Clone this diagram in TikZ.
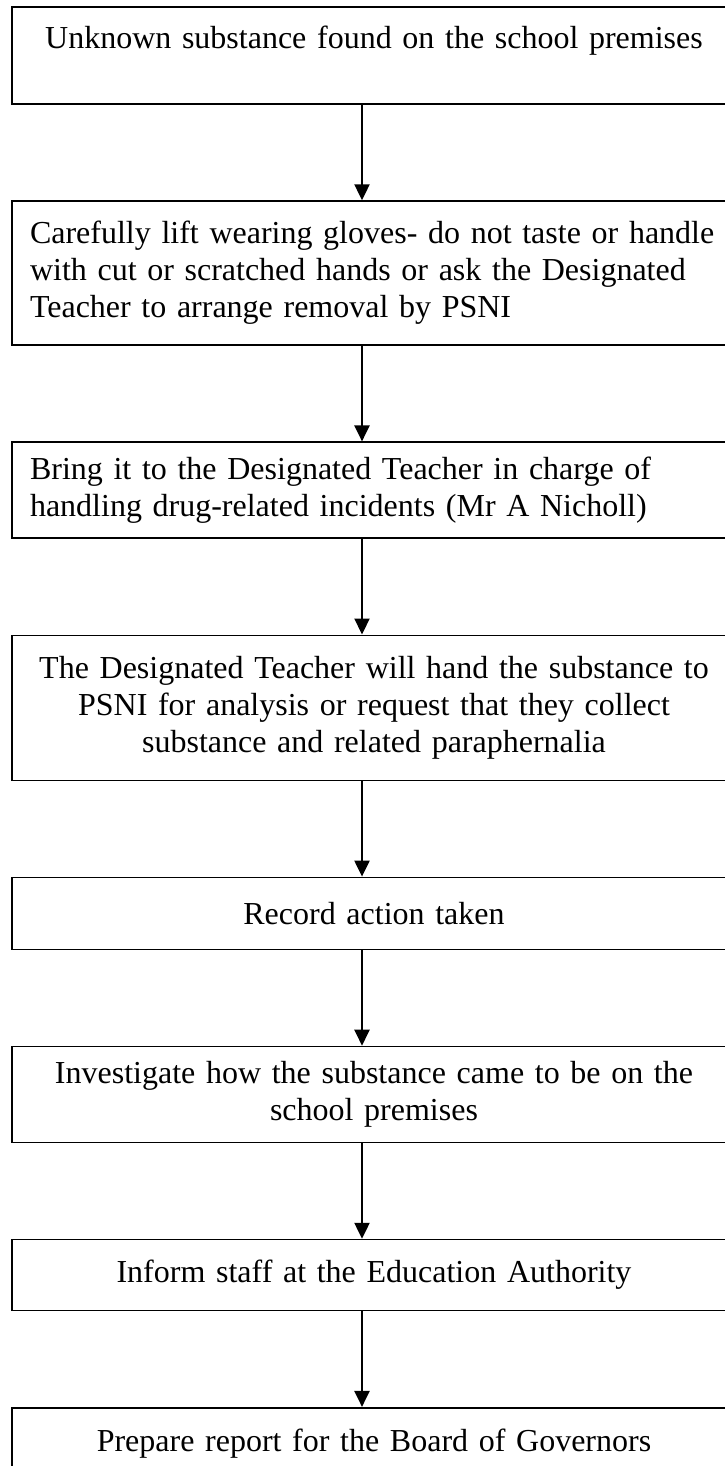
\documentclass[tikz,border=0pt]{standalone}
\usepackage{fontspec}
\setmainfont{Liberation Serif}
\usetikzlibrary{positioning,arrows.meta}

\begin{document}
\begin{tikzpicture}[
  x=1pt, y=1pt,
  >={Triangle[width=15pt,length=16pt]},
  node distance=95.5pt,
  stage/.style={draw, line width=1.6pt, text width=688pt, inner xsep=18pt, inner ysep=0pt,
    font=\fontsize{32}{37}\selectfont, align=center},
  flushed/.style={align=left},
  flow/.style={->, line width=2.2pt}
]
\useasboundingbox (0,0) rectangle (724,-1466);

% Stages of the procedure
\node[stage, minimum height=97pt] (found) at (374,-55.5)
  {Unknown substance found on the school premises\\ \mbox{}};
\node[stage, flushed, minimum height=144pt, below=of found] (lift)
  {Carefully lift wearing gloves- do not taste or handle\\
   with cut or scratched hands or ask the Designated\\
   Teacher to arrange removal by PSNI};
\node[stage, flushed, minimum height=96pt, below=of lift] (bring)
  {Bring it to the Designated Teacher in charge of\\
   handling drug-related incidents (Mr A Nicholl)};
\node[stage, minimum height=145pt, below=of bring] (hand)
  {The Designated Teacher will hand the substance to\\
   PSNI for analysis or request that they collect\\
   substance and related paraphernalia};
\node[stage, minimum height=72pt, below=of hand] (record) {Record action taken};
\node[stage, minimum height=96pt, below=of record] (investigate)
  {Investigate how the substance came to be on the\\ school premises};
\node[stage, minimum height=71pt, below=of investigate] (inform)
  {Inform staff at the Education Authority};
\node[stage, minimum height=72pt, below=of inform] (report)
  {Prepare report for the Board of Governors};

% Arrows run down a common axis
\coordinate (axis) at (362,0);
\foreach \a/\b in {found/lift, lift/bring, bring/hand, hand/record,
                   record/investigate, investigate/inform, inform/report}
  \draw[flow] (\a.south -| axis) -- (\b.north -| axis);

\end{tikzpicture}
\end{document}
